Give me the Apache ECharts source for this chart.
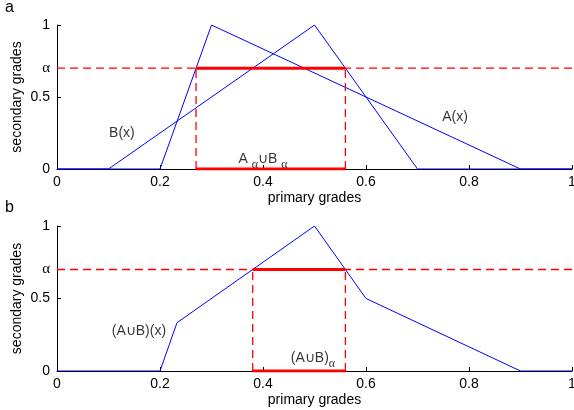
<!DOCTYPE html>
<html><head><meta charset="utf-8">
<script src="https://cdn.jsdelivr.net/npm/echarts@6/dist/echarts.min.js"></script>
<style>html,body{margin:0;padding:0;background:#fff;overflow:hidden;width:574px;height:410px}#c{width:574px;height:410px}</style>
</head><body><div id="c"></div>
<script>
// ---- data ----
const xTickValues = [0, 0.2, 0.4, 0.6, 0.8, 1];
const yTickValues = [0, 0.5, 1];
const alpha = 0.7;
// panel a: A(x) and B(x)
const aX = [0, 0.2, 0.3, 0.9, 1];
const aY = [0, 0, 1, 0, 0];
const bX = [0, 0.1, 0.5, 0.7, 1];
const bY = [0, 0, 1, 0, 0];
const cutUnionAB = [0.27, 0.56];          // A_alpha U B_alpha
// panel b: (A U B)(x)
const uX = [0, 0.2, 0.233, 0.5, 0.6, 0.9, 1];
const uY = [0, 0, 0.333, 1, 0.5, 0, 0];
const cutUnion = [0.38, 0.56];            // (A U B)_alpha
// annotation texts & anchors (data coords)
const labelsA = [
  {text: 'B(x)', x: 0.126, y: 0.25},
  {text: 'A(x)', x: 0.773, y: 0.36},
  {text: 'A {s|α}∪B {s|α}', x: 0.400, y: 0.065}
];
const labelsB = [
  {text: '(A∪B)(x)', x: 0.159, y: 0.276},
  {text: '(A∪B){s|α}', x: 0.497, y: 0.09}
];

const BLUE = '#0000ff', RED = '#ff0000';
const FONT = 'Liberation Sans';
const zip = (xs, ys) => xs.map((x, i) => [x, ys[i]]);

function axes(gi) {
  return {
    x: {
      type: 'value', gridIndex: gi, min: 0, max: 1, interval: 0.2,
      name: 'primary grades', nameLocation: 'middle', nameGap: 22, nameMoveOverlap: false,
      nameTextStyle: {fontFamily: FONT, fontSize: 14, color: '#000'},
      axisLine: {lineStyle: {color: '#000', width: 1}},
      axisTick: {inside: true, length: 4, lineStyle: {color: '#000'}},
      axisLabel: {fontFamily: FONT, fontSize: 14, color: '#000', margin: 6,
        formatter: v => String(+v.toFixed(1)), showMaxLabel: true},
      splitLine: {show: false}
    },
    y: {
      type: 'value', gridIndex: gi, min: 0, max: 1,
      name: 'secondary grades', nameLocation: 'middle', nameGap: 33, nameMoveOverlap: false,
      nameTextStyle: {fontFamily: FONT, fontSize: 14, color: '#000'},
      axisLine: {show: true, lineStyle: {color: '#000', width: 1}},
      axisTick: {inside: true, length: 4, lineStyle: {color: '#000'}, customValues: yTickValues},
      axisLabel: {fontFamily: FONT, fontSize: 14, color: '#000', margin: 7,
        customValues: yTickValues.concat([alpha]),
        formatter: v => Math.abs(v - alpha) < 1e-9 ? '{g|α}' : String(v),
        rich: {g: {fontFamily: 'Liberation Serif', fontSize: 15, color: '#000'}}},
      splitLine: {show: false}
    }
  };
}

function cutSeries(gi, cut) {
  const base = {type: 'line', xAxisIndex: gi, yAxisIndex: gi, symbol: 'none', silent: true, z: 3};
  return [
    Object.assign({}, base, {data: [[0, alpha], [1, alpha]],
      lineStyle: {color: RED, width: 1.3, type: [8, 5]}}),
    Object.assign({}, base, {data: [[cut[0], 0], [cut[0], alpha]],
      lineStyle: {color: RED, width: 1.3, type: [8, 5]}}),
    Object.assign({}, base, {data: [[cut[1], 0], [cut[1], alpha]],
      lineStyle: {color: RED, width: 1.3, type: [8, 5]}}),
    Object.assign({}, base, {data: [[cut[0], alpha], [cut[1], alpha]], z: 4,
      lineStyle: {color: RED, width: 3}}),
    Object.assign({}, base, {data: [[cut[0], 0], [cut[1], 0]], z: 4,
      lineStyle: {color: RED, width: 3}})
  ];
}

function labelSeries(gi, labels) {
  return {
    type: 'scatter', xAxisIndex: gi, yAxisIndex: gi, symbolSize: 0, silent: true, z: 5,
    data: labels.map(l => ({value: [l.x, l.y], label: {formatter: l.text}})),
    label: {show: true, position: 'inside', color: '#000', fontFamily: FONT, fontSize: 14,
      rich: {s: {fontFamily: 'Liberation Serif', fontSize: 12, color: '#000', padding: [11, 0, 0, 0]}}}
  };
}

const a0 = axes(0), a1 = axes(1);
const lineBase = {type: 'line', symbol: 'none', silent: true, lineStyle: {color: BLUE, width: 1}, z: 2};

const chart = echarts.init(document.getElementById('c'), null, {width: 574, height: 410});
const option = {
  animation: false,
  backgroundColor: '#fff',
  grid: [
    {left: 57, top: 25, right: 2, height: 144, containLabel: false, outerBoundsMode: 'none'},
    {left: 57, top: 226, right: 2, height: 145, containLabel: false, outerBoundsMode: 'none'}
  ],
  xAxis: [a0.x, a1.x],
  yAxis: [a0.y, a1.y],
  graphic: [
    {type: 'text', left: 5, top: 0, style: {text: 'a', fontFamily: FONT, fontSize: 16, fill: '#000'}},
    {type: 'text', left: 5, top: 200, style: {text: 'b', fontFamily: FONT, fontSize: 16, fill: '#000'}}
  ],
  series: [
    Object.assign({}, lineBase, {xAxisIndex: 0, yAxisIndex: 0, data: zip(aX, aY)}),
    Object.assign({}, lineBase, {xAxisIndex: 0, yAxisIndex: 0, data: zip(bX, bY)}),
    ...cutSeries(0, cutUnionAB),
    labelSeries(0, labelsA),
    Object.assign({}, lineBase, {xAxisIndex: 1, yAxisIndex: 1, data: zip(uX, uY)}),
    ...cutSeries(1, cutUnion),
    labelSeries(1, labelsB)
  ]
};
chart.setOption(option);
</script></body></html>
